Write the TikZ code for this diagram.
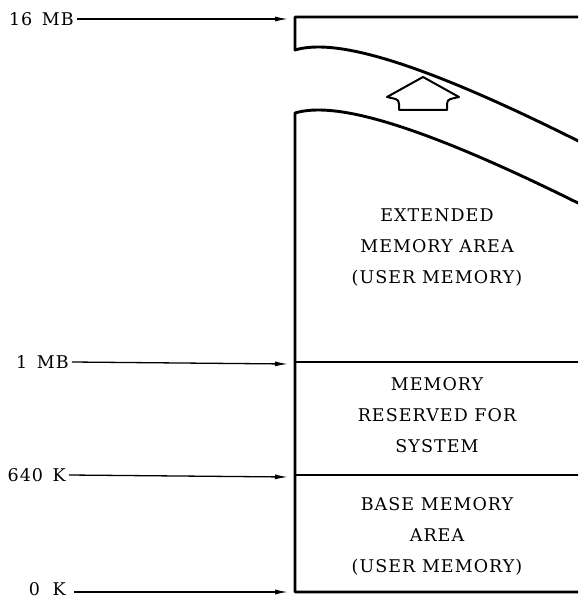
\documentclass[tikz,border=0pt]{standalone}
\usepackage{fontspec}
\setmainfont{DejaVu Serif}
\newfontfamily\wideserif[LetterSpace=6]{DejaVu Serif}
\usetikzlibrary{arrows.meta}
\begin{document}
\begin{tikzpicture}[x=1pt,y=-1pt,
  wall/.style={line width=2.9pt,line join=round},
  pointer/.style={line width=1.3pt,-{Latex[length=13pt,width=5pt]}},
  lbl/.style={anchor=east,inner sep=0pt,font=\wideserif\fontsize{17.5}{17.5}\selectfont},
  area/.style={align=center,inner sep=0pt,font=\wideserif\fontsize{17.5}{31}\selectfont}]
\useasboundingbox (0,0) rectangle (578,601);
\begin{scope}
\clip (0,0) rectangle (578,601);
% top band
\draw[wall] (600,17) -- (295,17) -- (295,50)
  .. controls (335,38) and (420,60) .. (600,152);
% main column
\draw[wall] (600,214) .. controls (420,123) and (335,101) .. (295,113)
  -- (295,592) -- (600,592);
\draw[wall] (295,362) -- (600,362);
\draw[wall] (295,475) -- (600,475);
\end{scope}
% hollow arrow
\draw[line width=2pt,line join=round] (423,77) -- (459,97)
  .. controls (452,99) and (447,98) .. (447,104) -- (447,110) -- (399,110) -- (399,104)
  .. controls (399,98) and (394,99) .. (387,97) -- cycle;
% labels
\node[lbl] (l16) at (74,19) {16\hspace{3pt} MB};
\node[lbl] (l1) at (69,362) {1\hspace{3pt} MB};
\node[lbl] (l640) at (66,475) {640\hspace{3pt} K};
\node[lbl] (l0) at (66,589) {0\hspace{6pt} K};
\coordinate (b16) at (288,19);
\coordinate (b1) at (288,364);
\coordinate (b640) at (288,477);
\coordinate (b0) at (288,592);
\draw[pointer] ([xshift=3pt]l16.east) -- (b16);
\draw[pointer] ([xshift=3pt]l1.east) -- (b1);
\draw[pointer] ([xshift=3pt]l640.east) -- (b640);
\draw[pointer] ([xshift=8pt]b0 -| l0.east) -- (b0);
% area texts
\node[area] (ext) at (437,247) {EXTENDED\\MEMORY AREA\\(USER MEMORY)};
\node[area] (sys) at (437,415) {MEMORY\\RESERVED FOR\\SYSTEM};
\node[area] (base) at (437,536) {BASE MEMORY\\AREA\\(USER MEMORY)};
\end{tikzpicture}
\end{document}
